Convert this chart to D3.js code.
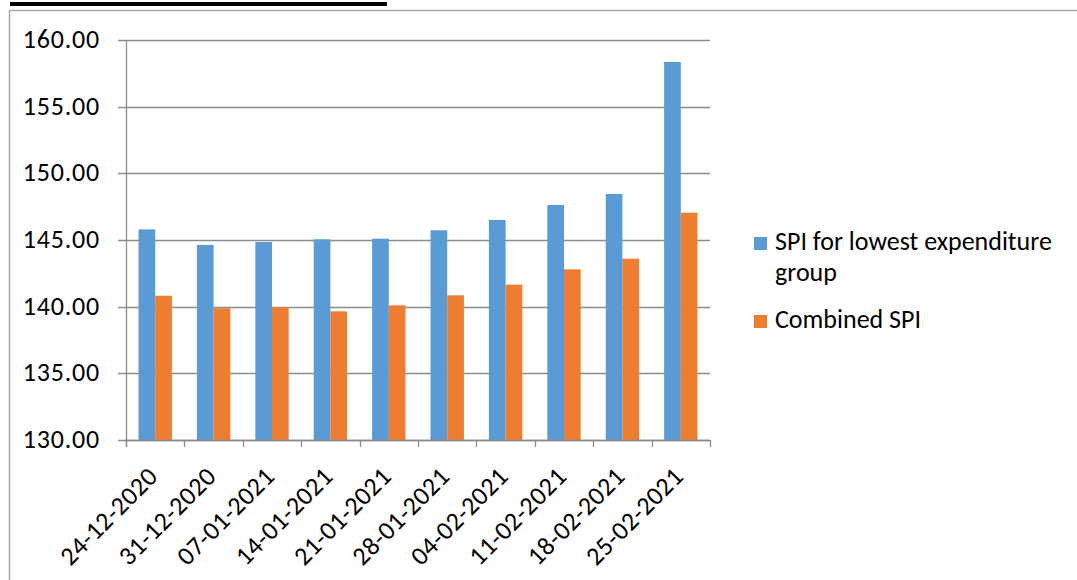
<!DOCTYPE html>
<html><head><meta charset="utf-8">
<script src="https://cdn.jsdelivr.net/npm/d3@7"></script>
<style>
html,body{margin:0;padding:0;background:#fff;}
svg{display:block;font-family:Carlito,Lato,"Open Sans",sans-serif;}
</style></head>
<body><svg id="c" width="1077" height="580"></svg>
<script>
const categories = ["24-12-2020","31-12-2020","07-01-2021","14-01-2021","21-01-2021","28-01-2021","04-02-2021","11-02-2021","18-02-2021","25-02-2021"];
const lowestGroup = [145.80,144.63,144.85,145.05,145.10,145.73,146.50,147.63,148.45,158.35];
const combinedSPI = [140.82,139.88,139.95,139.65,140.10,140.85,141.65,142.80,143.60,147.05];
const yTicks = [130,135,140,145,150,155,160];
const seriesNames = ["SPI for lowest expenditure group","Combined SPI"];
const colors = ["#5B9BD5","#ED7D31"];

const svg = d3.select("#c");
const L=126, R=710, T=40, B=440;
const FS=26;

// decorations
svg.append("rect").attr("x",10).attr("y",2).attr("width",377).attr("height",4).attr("fill","#000");
svg.append("line").attr("x1",9.5).attr("x2",1077).attr("y1",10.5).attr("y2",10.5).attr("stroke","#a6a6a6").attr("stroke-width",1.5);
svg.append("line").attr("x1",9.5).attr("x2",9.5).attr("y1",10.5).attr("y2",580).attr("stroke","#a6a6a6").attr("stroke-width",1.5);

const y = d3.scaleLinear().domain([130,160]).range([B,T]);
const x = d3.scaleBand().domain(categories).range([L,R]).paddingInner(0).paddingOuter(0);
const inner = d3.scaleBand().domain([0,1]).range([0,x.bandwidth()]).paddingInner(0).paddingOuter(0.75);

// gridlines
svg.append("g").selectAll("line").data(yTicks).join("line")
  .attr("x1",L-8).attr("x2",R).attr("y1",d=>Math.round(y(d))+0.5).attr("y2",d=>Math.round(y(d))+0.5)
  .attr("stroke","#8c8c8c").attr("stroke-width",1.3);
// y axis line
svg.append("line").attr("x1",L+0.5).attr("x2",L+0.5).attr("y1",T).attr("y2",B+7).attr("stroke","#8c8c8c").attr("stroke-width",1.3);
// y labels
svg.append("g").selectAll("text").data(yTicks).join("text")
  .attr("x",100).attr("y",d=>y(d)-1).attr("dy","0.35em").attr("text-anchor","end")
  .attr("letter-spacing","0.8px")
  .attr("font-size",FS).attr("fill","#000").text(d=>d.toFixed(2));

// bars
const series=[lowestGroup,combinedSPI];
series.forEach((vals,si)=>{
  svg.append("g").selectAll("rect").data(vals).join("rect")
    .attr("x",(d,i)=>x(categories[i])+inner(si))
    .attr("width",inner.bandwidth())
    .attr("y",d=>y(d)).attr("height",d=>B-y(d))
    .attr("fill",colors[si]);
});

// x axis ticks
const bounds = categories.map(c=>x(c)).concat([R]);
svg.append("g").selectAll("line").data(bounds).join("line")
  .attr("x1",d=>Math.round(d)+0.5).attr("x2",d=>Math.round(d)+0.5).attr("y1",B).attr("y2",B+7)
  .attr("stroke","#8c8c8c").attr("stroke-width",1.3);
svg.append("line").attr("x1",L).attr("x2",R).attr("y1",B+0.5).attr("y2",B+0.5).attr("stroke","#8c8c8c").attr("stroke-width",1.3);

// x labels
svg.append("g").selectAll("text").data(categories).join("text")
  .attr("transform",c=>`translate(${x(c)+x.bandwidth()/2+4},${B+38}) rotate(-45)`)
  .attr("text-anchor","end").attr("letter-spacing","0.4px").attr("font-size",FS).attr("fill","#000").text(d=>d);

// legend
const lg = svg.append("g");
lg.append("rect").attr("x",754).attr("y",237).attr("width",13).attr("height",13).attr("fill",colors[0]);
lg.append("text").attr("x",775).attr("y",250).attr("font-size",FS).text("SPI for lowest expenditure");
lg.append("text").attr("x",775).attr("y",281).attr("font-size",FS).text("group");
lg.append("rect").attr("x",754).attr("y",315).attr("width",13).attr("height",13).attr("fill",colors[1]);
lg.append("text").attr("x",775).attr("y",328).attr("font-size",FS).text(seriesNames[1]);
</script></body></html>
